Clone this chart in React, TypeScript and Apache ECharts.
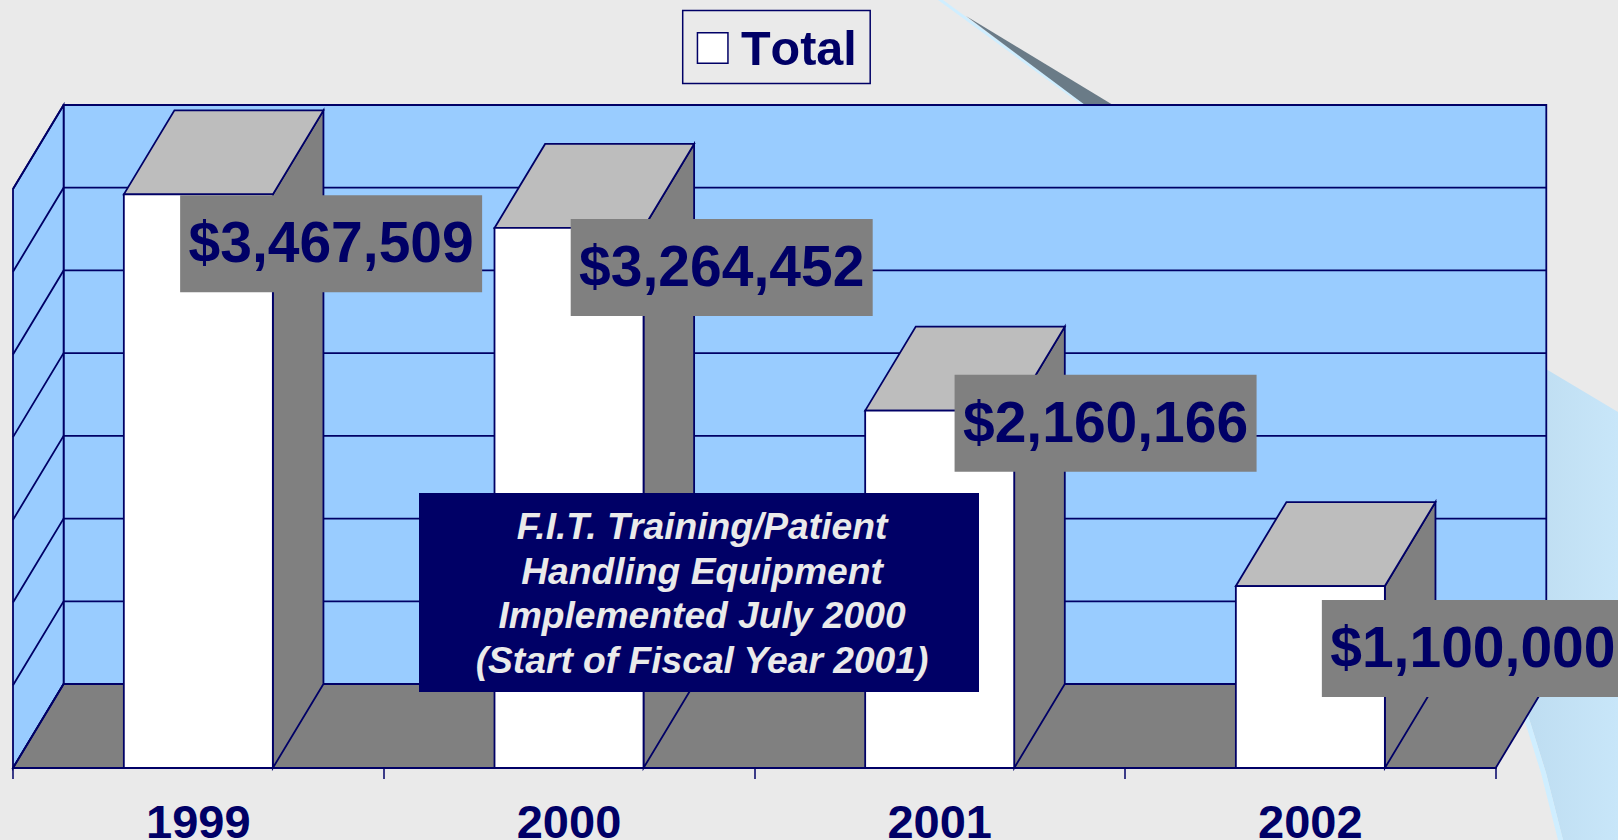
import React, { useEffect, useRef } from "react";
import * as echarts from "echarts";

const categories = ["1999", "2000", "2001", "2002"];
const totals = [3467509, 3264452, 2160166, 1100000];
const yTicks = [0, 500000, 1000000, 1500000, 2000000, 2500000, 3000000, 3500000];
const noteLines = [
  "F.I.T. Training/Patient",
  "Handling Equipment",
  "Implemented July 2000",
  "(Start of Fiscal Year 2001)",
];

const NAVY = "#000066";
const WALL = "#99CCFF";
const GREY = "#808080";
const TOP = "#BDBDBD";
const BG = "#EAEAEA";
const FONT = '"Liberation Sans", Arial, sans-serif';
const DX = 50.6;
const DY = 84;
const BAR_RATIO = 0.402;
const LINE = { stroke: NAVY, lineWidth: 1.8 };
// Manual placement of the value tags relative to each bar's front top-left corner.
const tagOffsets = [
  [56.3, 1],
  [76.2, -9],
  [89.4, -36],
  [86, 14],
];
const TAG_W = 302;
const TAG_H = 97;

const money = (v: number) => "$" + v.toLocaleString("en-US");

const renderWalls = (params: any, api: any) => {
  const c = params.coordSys;
  const x0 = c.x;
  const x1 = c.x + c.width;
  const yT = c.y;
  const yB = c.y + c.height;
  return {
    type: "group",
    children: [
      {
        type: "rect",
        shape: { x: x0 + DX, y: yT - DY, width: c.width, height: c.height },
        style: { fill: WALL, ...LINE },
      },
      {
        type: "polygon",
        shape: { points: [[x0, yB], [x0, yT], [x0 + DX, yT - DY], [x0 + DX, yB - DY]] },
        style: { fill: WALL, ...LINE },
      },
      {
        type: "polygon",
        shape: { points: [[x0, yB], [x1, yB], [x1 + DX, yB - DY], [x0 + DX, yB - DY]] },
        style: { fill: GREY, ...LINE },
      },
    ],
  };
};

const renderGrid = (params: any, api: any) => {
  const c = params.coordSys;
  const y = api.coord([0, api.value(0)])[1];
  return {
    type: "polyline",
    shape: { points: [[c.x, y], [c.x + DX, y - DY], [c.x + c.width + DX, y - DY]] },
    style: { fill: "none", ...LINE },
  };
};

const renderBar = (params: any, api: any) => {
  const [cx, yTop] = api.coord([api.value(0), api.value(1)]);
  const yBase = api.coord([api.value(0), 0])[1];
  const w = api.size([1, 0])[0] * BAR_RATIO;
  const l = cx - w / 2;
  const r = cx + w / 2;
  return {
    type: "group",
    children: [
      {
        type: "polygon",
        shape: { points: [[r, yTop], [r + DX, yTop - DY], [r + DX, yBase - DY], [r, yBase]] },
        style: { fill: GREY, ...LINE },
      },
      {
        type: "polygon",
        shape: { points: [[l, yTop], [l + DX, yTop - DY], [r + DX, yTop - DY], [r, yTop]] },
        style: { fill: TOP, ...LINE },
      },
      {
        type: "rect",
        shape: { x: l, y: yTop, width: w, height: yBase - yTop },
        style: { fill: "#FFFFFF", ...LINE },
      },
    ],
  };
};

const renderTag = (params: any, api: any) => {
  const [cx, yTop] = api.coord([api.value(0), api.value(1)]);
  const w = api.size([1, 0])[0] * BAR_RATIO;
  const off = tagOffsets[params.dataIndex];
  const x = cx - w / 2 + off[0];
  const y = yTop + off[1];
  return {
    type: "group",
    children: [
      { type: "rect", shape: { x, y, width: TAG_W, height: TAG_H }, style: { fill: GREY } },
      {
        type: "text",
        style: {
          x: x + TAG_W / 2,
          y: y + TAG_H / 2 - 1.5,
          text: money(api.value(1)),
          align: "center",
          verticalAlign: "middle",
          fill: NAVY,
          font: `bold 57px ${FONT}`,
        },
      },
    ],
  };
};

export default function App() {
  const ref = useRef<HTMLDivElement>(null);
  useEffect(() => {
    document.body.style.margin = "0";
    const chart = echarts.init(ref.current!, null, { renderer: "svg" });
    const barData = totals.map((v, i) => [i, v]);
    chart.setOption({
      animation: false,
      backgroundColor: BG,
      grid: { left: 13, right: 122.3, top: 189, bottom: 72, containLabel: false, outerBoundsMode: "none" },
      xAxis: {
        type: "category",
        data: categories,
        z: 3,
        axisLine: { lineStyle: { color: NAVY, width: 1.8 } },
        axisTick: { show: true, length: 11, lineStyle: { color: NAVY, width: 1.5 } },
        axisLabel: {
          color: NAVY,
          fontFamily: FONT,
          fontWeight: "bold",
          fontSize: 47,
          lineHeight: 34,
          margin: 36,
        },
      },
      yAxis: {
        type: "value",
        min: 0,
        max: 3500000,
        interval: 500000,
        axisLine: { show: false },
        axisTick: { show: false },
        axisLabel: { show: false },
        splitLine: { show: false },
      },
      legend: {
        data: [{ name: "Total", icon: "rect" }],
        left: 682.7,
        top: 10.5,
        orient: "horizontal",
        padding: [13, 17, 11, 14],
        borderColor: NAVY,
        borderWidth: 1.5,
        itemWidth: 30.5,
        itemHeight: 30.5,
        itemStyle: { color: "#FFFFFF", borderColor: NAVY, borderWidth: 1.5 },
        textStyle: {
          color: NAVY,
          fontFamily: FONT,
          fontWeight: "bold",
          fontSize: 48.5,
          padding: [0, 0, 0, 8],
        },
      },
      graphic: {
        elements: [
          {
            type: "polygon",
            z: 0,
            shape: { points: [[1546, 369], [1618, 412], [1618, 840], [1563, 840], [1546, 773], [1527, 712]] },
            style: {
              fill: {
                type: "linear", x: 0, y: 0, x2: 1, y2: 0,
                colorStops: [{ offset: 0, color: "#BEDDF1" }, { offset: 1, color: "#C8E6F9" }],
              },
            },
          },
          {
            type: "polygon",
            z: 0,
            shape: { points: [[1522, 712], [1541, 773], [1558, 840], [1563, 840], [1546, 773], [1527, 712]] },
            style: { fill: "#CFEEFF" },
          },
          {
            type: "polygon",
            z: 0,
            shape: { points: [[938, 0], [943, 0], [1087, 105], [1082, 105]] },
            style: { fill: "#CFEEFF" },
          },
          {
            type: "polygon",
            z: 0,
            shape: { points: [[966, 16], [1113, 105], [1085, 105]] },
            style: { fill: "#6A7B87" },
          },
          {
            type: "rect",
            z: 20,
            shape: { x: 419, y: 493, width: 560, height: 199 },
            style: { fill: NAVY },
          },
          ...noteLines.map((t, i) => ({
            type: "text",
            z: 21,
            style: {
              x: 702,
              y: 526 + i * 44.7,
              text: t,
              align: "center",
              verticalAlign: "middle",
              fill: BG,
              font: `italic bold 37.2px ${FONT}`,
            },
          })),
        ],
      },
      series: [
        { type: "custom", name: "walls", z: 1, coordinateSystem: "cartesian2d", renderItem: renderWalls, data: [[0, 0]], silent: true },
        { type: "custom", name: "gridlines", z: 2, coordinateSystem: "cartesian2d", renderItem: renderGrid, data: yTicks.map((v) => [v]), encode: { y: 0 }, silent: true },
        { type: "custom", name: "Total", z: 4, coordinateSystem: "cartesian2d", renderItem: renderBar, data: barData, encode: { x: 0, y: 1 }, itemStyle: { color: "#FFFFFF", borderColor: NAVY, borderWidth: 1.5 }, silent: true },
        { type: "custom", name: "tags", z: 6, coordinateSystem: "cartesian2d", renderItem: renderTag, data: barData, encode: { x: 0, y: 1 }, silent: true },
      ],
    });
    return () => chart.dispose();
  }, []);
  return <div ref={ref} style={{ position: "fixed", left: 0, top: 0, width: 1618, height: 840, fontKerning: "none" } as any} />;
}
